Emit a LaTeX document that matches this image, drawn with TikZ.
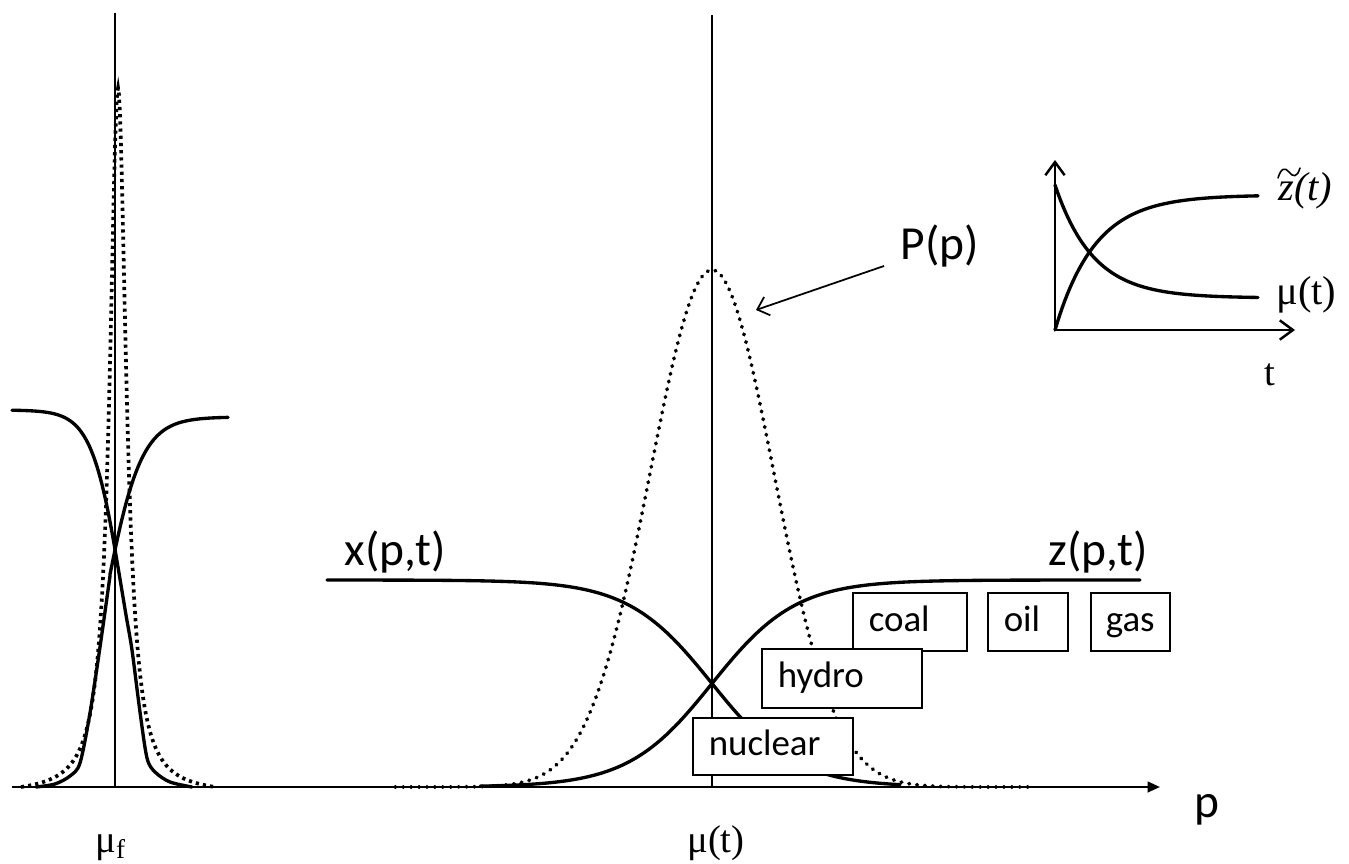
\documentclass[tikz,border=0pt]{standalone}
\usepackage{fontspec}
\setmainfont{Carlito}
\newfontfamily\serif{Liberation Serif}
\usetikzlibrary{arrows.meta}
\tikzset{
  thickcurve/.style={line width=1.9pt, line join=round, line cap=round},
  dotcurve/.style={line width=2.1pt, line cap=round, dash pattern=on 0.4pt off 4.1pt},
  sqdotcurve/.style={line width=2.1pt, line cap=butt, dash pattern=on 1.8pt off 2.3pt},
  thinline/.style={line width=1pt},
  axisline/.style={line width=1.3pt},
  box/.style={draw, fill=white, line width=0.9pt, inner xsep=0.32cm, inner ysep=0pt, align=left, anchor=north west, text height=15pt, text depth=4pt, font=\fontsize{21}{25}\selectfont},
  biglabel/.style={font=\fontsize{27}{31}\selectfont, inner sep=0pt, anchor=base},
  seriflabel/.style={font=\serif\fontsize{22}{26}\selectfont, inner sep=0pt, anchor=base},
  insetlabel/.style={font=\serif\fontsize{23}{27}\selectfont, inner sep=0pt, anchor=base west},
}
\begin{document}
\begin{tikzpicture}[x=0.02cm,y=-0.02cm]
\useasboundingbox (0,0) rectangle (1349,864);

% ---------- left (mu_f) ----------
\draw[thinline] (115,13) -- (115,787);
\draw[sqdotcurve] plot[domain=21:216, samples=220] (\x, {787-699*(1/(1+((\x-118)/10)^2)-0.0105)/(1-0.0105)});
\draw[thickcurve] plot[domain=12:118, samples=80] (\x, {410+377/(1+exp(-(\x-123)/15))}) -- plot[smooth, tension=0.5] coordinates {(118,567) (126,615) (132,650) (140,712) (147,758) (155,772) (170,782) (192,787)};
\draw[thickcurve] plot[smooth, tension=0.5] coordinates {(36,787) (55,784) (70,776) (80,763) (90,713) (100,647) (110,576)} -- plot[domain=110:228, samples=80] (\x, {787-370/(1+exp(-(\x-104.6)/18))});

% ---------- main axis ----------
\coordinate (axL) at (12,787);
\coordinate (axR) at (1160,787);
\draw[axisline, -{Triangle[length=7pt, width=6pt]}] (axL) -- (axR);

% ---------- centre ----------
\draw[thinline] (712,15) -- (712,787);
\draw[dotcurve] plot[domain=395:1030, samples=260] (\x, {787-517*exp(-((\x-712)/62)^2/2)});
\draw[thickcurve] plot[domain=327:900, samples=150] (\x, {787-207/(1+exp((\x-712)/42))});
\draw[thickcurve] plot[domain=480:1140, samples=150] (\x, {787-207/(1+exp(-(\x-712)/42))});

% ---------- boxes ----------
\node[box, minimum height=1.16cm, text width=1.64cm] (coal) at (852,592) {coal};
\node[box, minimum height=1.16cm, text width=0.96cm] (oil) at (987,592) {oil};
\node[box, minimum height=1.16cm, text width=0.98cm, inner xsep=0.3cm] (gas) at (1090,592) {gas};
\node[box, minimum height=1.18cm, text width=2.56cm] (hydro) at (761,648) {hydro};
\node[box, minimum height=1.14cm, text width=2.56cm] (nuclear) at (692,717) {nuclear};

% ---------- labels ----------
\node[biglabel] (xpt) at (395,565) {x(p,t)};
\node[biglabel] (zpt) at (1098,565) {z(p,t)};
\node[biglabel] (plab) at (1207,817) {p};
\node[biglabel] (Pp) at (940,260) {P(p)};
\coordinate (Pstart) at (884,266);
\coordinate (Ptip) at (756,310);
\draw[line width=1pt, -{Straight Barb[length=6pt, width=11pt]}] (Pstart) -- (Ptip);
\node[seriflabel] (mut) at (716,852) {μ(t)};
\node[seriflabel, anchor=base west] (muf) at (95,852) {μ\textsubscript{f}};

% ---------- inset ----------
\coordinate (io) at (1055,330);
\coordinate (iy) at (1055,160);
\coordinate (ix) at (1295,330);
\draw[line width=1.4pt, -{Straight Barb[length=7.5pt, width=11pt]}] (io) -- (iy);
\draw[line width=1.4pt, -{Straight Barb[length=7.5pt, width=11pt]}] (io) -- (ix);
\draw[thickcurve] plot[domain=1055:1258, samples=80] (\x, {298-113*exp(-(\x-1055)/38)});
\draw[thickcurve] plot[domain=1055:1258, samples=80] (\x, {195+135*exp(-(\x-1055)/40)});
\node[insetlabel] (zt) at (1278,201) {\itshape z(t)};
\draw[line width=0.9pt, line cap=round] (1278,178) .. controls (1281,168) and (1285,167) .. (1289,172) .. controls (1293,177) and (1297,178) .. (1300,168);
\node[insetlabel] (mutin) at (1276,305) {μ(t)};
\node[seriflabel] (tlab) at (1270,386) {t};
\end{tikzpicture}
\end{document}
